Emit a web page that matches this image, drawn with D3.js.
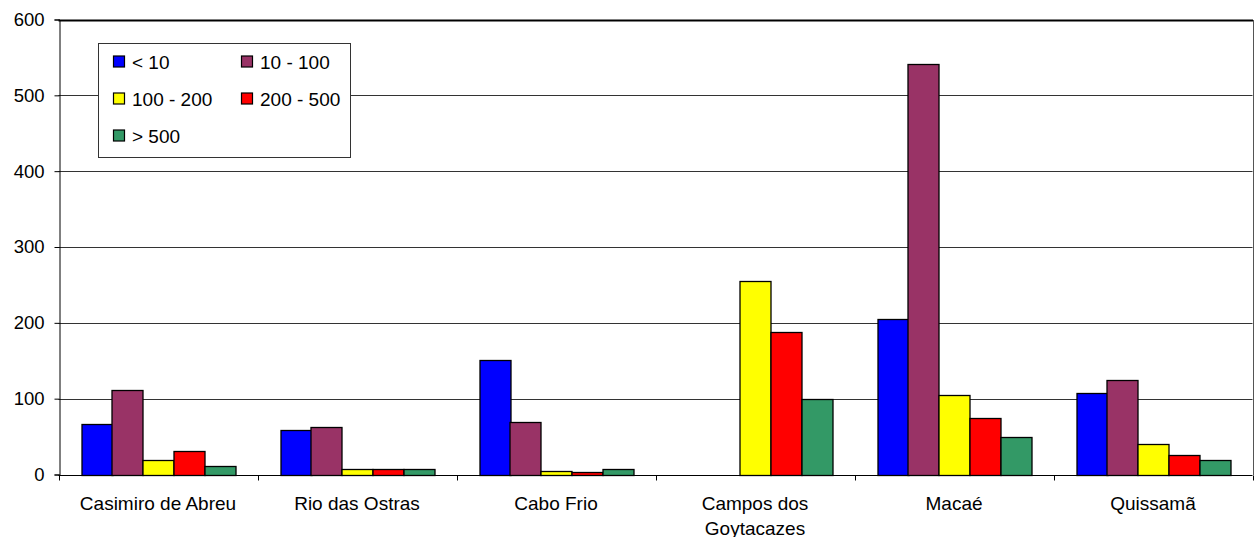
<!DOCTYPE html>
<html>
<head>
<meta charset="utf-8">
<script src="https://d3js.org/d3.v7.min.js"></script>
<style>
  body { margin: 0; background: #fff; }
  svg { display: block; font-family: "Liberation Sans", Arial, sans-serif; }
</style>
</head>
<body>
<svg id="chart" width="1255" height="537"></svg>
<script>
// data
var cities = ["Casimiro de Abreu", "Rio das Ostras", "Cabo Frio", "Campos dos Goytacazes", "Macaé", "Quissamã"];
var cityLines = [["Casimiro de Abreu"], ["Rio das Ostras"], ["Cabo Frio"], ["Campos dos", "Goytacazes"], ["Macaé"], ["Quissamã"]];
var classes = ["< 10", "10 - 100", "100 - 200", "200 - 500", "> 500"];
var classColors = ["#0000ff", "#993366", "#ffff00", "#ff0000", "#339966"];
var lt10 = [66, 59, 151, 0, 205, 107];
var v10to100 = [112, 62, 69, 0, 541, 124];
var v100to200 = [19, 7, 5, 255, 105, 40];
var v200to500 = [31, 7, 3, 188, 74, 26];
var gt500 = [11, 7, 7, 100, 50, 19];
var series = [lt10, v10to100, v100to200, v200to500, gt500];
var yTicks = [0, 100, 200, 300, 400, 500, 600];

var svg = d3.select("#chart");
var pLeft = 58.5, pRight = 1252.5, pTop = 19.5, pBottom = 474.5;
var fs = 19;

var x = d3.scaleBand().domain(cities).range([pLeft, pRight]).paddingInner(0).paddingOuter(0);
var xs = d3.scaleBand().domain(d3.range(classes.length)).range([0, x.bandwidth()]).paddingOuter(0.74).paddingInner(0);
var y = d3.scaleLinear().domain([0, 600]).range([pBottom, pTop]);

// gridlines
svg.append("g").selectAll("line").data(yTicks.filter(d => d > 0 && d < 600)).join("line")
  .attr("x1", pLeft).attr("x2", pRight)
  .attr("y1", d => Math.round(y(d)) + 0.5).attr("y2", d => Math.round(y(d)) + 0.5)
  .attr("stroke", "#333").attr("stroke-width", 1);

// plot frame: heavy top, grey right side
svg.append("line").attr("x1", pLeft).attr("x2", pRight + 0.5).attr("y1", Math.round(y(600)) + 0.5).attr("y2", Math.round(y(600)) + 0.5)
  .attr("stroke", "#000").attr("stroke-width", 2);
svg.append("line").attr("x1", Math.round(pRight) + 0.5).attr("x2", Math.round(pRight) + 0.5)
  .attr("y1", Math.round(y(600))).attr("y2", Math.round(y(0)))
  .attr("stroke", "#555").attr("stroke-width", 1);

// bars
var groups = svg.append("g").selectAll("g").data(cities).join("g")
  .attr("transform", d => "translate(" + x(d) + ",0)");
groups.selectAll("rect")
  .data((c, ci) => series.map((s, si) => ({si: si, v: s[ci]})).filter(d => d.v > 0))
  .join("rect")
  .attr("x", d => Math.round(xs(d.si)) + 0.5)
  .attr("width", Math.round(xs.bandwidth()))
  .attr("y", d => Math.round(y(d.v)) + 0.5)
  .attr("height", d => Math.round(y(0)) - Math.round(y(d.v)))
  .attr("fill", d => classColors[d.si])
  .attr("stroke", "#000").attr("stroke-width", 1.3);

// y axis
var yAxis = svg.append("g").attr("transform", "translate(" + (Math.round(pLeft) + 0.5) + ",0)")
  .call(d3.axisLeft(y).tickValues(yTicks).tickSize(5).tickPadding(10));
yAxis.select(".domain").attr("stroke", "#000");
yAxis.selectAll("text").attr("font-size", 18.5).attr("fill", "#000")
  .style("font-family", "'Liberation Sans', Arial, sans-serif");

// x axis
var xAxis = svg.append("g").attr("transform", "translate(0," + (Math.round(pBottom) + 0.5) + ")");
xAxis.append("line").attr("x1", pLeft).attr("x2", pRight).attr("stroke", "#000");
xAxis.selectAll(".tk").data(cities.concat([null])).join("line").attr("class", "tk")
  .attr("x1", (d, i) => Math.round(pLeft + i * x.bandwidth()) + 0.5)
  .attr("x2", (d, i) => Math.round(pLeft + i * x.bandwidth()) + 0.5)
  .attr("y1", 0).attr("y2", 5).attr("stroke", "#000");
xAxis.selectAll("text").data(cities).join("text")
  .attr("x", d => x(d) + x.bandwidth() / 2)
  .attr("y", 34)
  .attr("text-anchor", "middle").attr("font-size", fs).attr("fill", "#000")
  .each(function (d, i) {
    d3.select(this).selectAll("tspan").data(cityLines[i]).join("tspan")
      .attr("x", x(d) + x.bandwidth() / 2)
      .attr("dy", (t, j) => j === 0 ? 0 : 25)
      .text(t => t);
  });

// legend
var lg = svg.append("g");
lg.append("rect").attr("x", 98.5).attr("y", 43.5).attr("width", 252).attr("height", 114)
  .attr("fill", "#fff").attr("stroke", "#333").attr("stroke-width", 1);
var items = lg.selectAll("g.item").data(classes).join("g").attr("class", "item")
  .attr("transform", (d, i) => "translate(" + (i % 2 === 0 ? 113 : 241) + "," + (61.5 + Math.floor(i / 2) * 37) + ")");
items.append("rect").attr("x", 0.5).attr("y", -5.5).attr("width", 11).attr("height", 11)
  .attr("fill", (d, i) => classColors[i]).attr("stroke", "#000").attr("stroke-width", 1.2);
items.append("text").attr("x", 19).attr("y", 7).attr("font-size", fs).attr("fill", "#000").text(d => d);
</script>
</body>
</html>
